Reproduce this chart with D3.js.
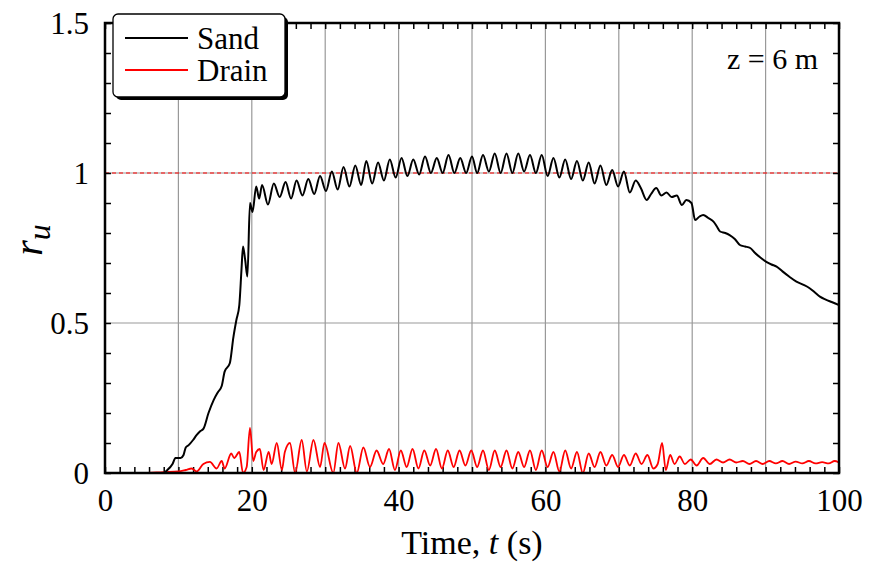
<!DOCTYPE html>
<html>
<head>
<meta charset="utf-8">
<script src="https://cdn.jsdelivr.net/npm/d3@7"></script>
<style>
  html, body { margin: 0; padding: 0; background: #fff; }
  svg { display: block; }
  svg text { font-family: "Liberation Serif", Tinos, "Times New Roman", Times, "DejaVu Serif", serif; fill: #000; }
</style>
</head>
<body>
<svg id="chart" width="870" height="564"></svg>
<script>
// ---------------- data ----------------
const sandT = [0, 4, 7.9, 8.5, 9.2, 9.6, 10.3, 10.7, 11.0, 11.4, 12.0, 12.5, 13.0, 13.4, 14.1, 14.8, 15.4, 15.9, 16.3, 17.0, 17.5, 17.9, 18.3, 18.6, 18.8, 19.1, 19.4, 19.75, 20.1, 20.6,
  21.0, 21.4, 22.2, 23.0, 23.8, 24.6, 25.35, 26.1, 26.9, 27.7, 28.5, 29.3, 30.1, 30.9, 31.7, 32.5, 33.3, 34.1, 34.9, 35.6, 36.4, 37.2, 38.0, 38.8, 39.6,
  40.4, 41.2, 42.0, 42.8, 43.6, 44.4, 45.2, 46.0, 46.8, 47.6, 48.4, 49.2, 50.0, 50.7, 51.5, 52.3, 53.1, 53.9, 54.7, 55.5, 56.3, 57.1, 57.9, 58.7, 59.5,
  60.3, 61.1, 61.9, 62.7, 63.5, 64.3, 65.1, 65.9, 66.7, 67.5, 68.3, 69.1, 69.9, 70.7, 71.5, 72.3, 73.0, 73.8, 74.4, 75.1, 75.8, 76.5, 77.2, 77.9, 78.6, 79.2,
  79.9, 80.4, 81.0, 81.5, 82.2, 82.9, 83.4, 83.8, 84.5, 85.1, 85.8, 86.5, 87.2, 87.9, 88.5, 89.2, 90.1, 90.8, 91.5, 92.3, 93.2, 94.2, 95.1, 96.0, 96.8, 97.4, 98.2, 99.0, 100];
const sandR = [0, 0, 0.0, 0.01, 0.03, 0.05, 0.05, 0.06, 0.085, 0.093, 0.11, 0.127, 0.14, 0.147, 0.2, 0.243, 0.27, 0.29, 0.338, 0.366, 0.454, 0.51, 0.56, 0.68, 0.755, 0.71, 0.655, 0.9, 0.87, 0.955,
  0.915, 0.96, 0.895, 0.965, 0.92, 0.97, 0.915, 0.975, 0.925, 0.98, 0.93, 0.99, 0.94, 1.005, 0.945, 1.02, 0.955, 1.025, 0.96, 1.04, 0.965, 1.035, 0.975, 1.045, 0.985,
  1.05, 0.99, 1.045, 0.995, 1.055, 1.0, 1.05, 1.0, 1.06, 1.0, 1.05, 1.0, 1.055, 1.0, 1.06, 1.005, 1.065, 1.0, 1.065, 1.0, 1.065, 1.005, 1.06, 1.0, 1.06,
  0.99, 1.05, 0.985, 1.045, 0.98, 1.04, 0.975, 1.035, 0.965, 1.025, 0.96, 1.01, 0.955, 1.005, 0.935, 0.975, 0.95, 0.91, 0.93, 0.95, 0.925, 0.935, 0.92, 0.925, 0.893, 0.91,
  0.9, 0.843, 0.855, 0.86, 0.85, 0.838, 0.82, 0.805, 0.8, 0.793, 0.78, 0.76, 0.755, 0.75, 0.735, 0.72, 0.704, 0.695, 0.688, 0.672, 0.655, 0.638, 0.628, 0.616, 0.6, 0.588, 0.578, 0.57, 0.56];

const drainT = [0, 5, 8, 10, 11, 11.8, 12.5, 13.4, 14.3, 15.2, 15.9, 16.3, 17.2, 17.6, 18.3, 18.8, 19.3, 19.75, 20.2, 20.6, 21.1, 21.6, 22.3, 22.7, 23.4, 24.1, 24.5, 25.2, 25.9,
  26.8, 27.5, 28.4, 29.3, 29.9, 31.1, 31.8, 32.7, 33.4, 34.3, 35.2, 36.1, 37.0, 37.9, 38.7, 39.5, 40.3, 41.1, 41.9, 42.7, 43.5, 44.3, 45.1, 45.9, 46.7, 47.5,
  48.3, 49.1, 49.9, 50.7, 51.5, 52.3, 53.1, 53.9, 54.7, 55.5, 56.3, 57.1, 57.9, 58.7, 59.5, 60.3, 61.1, 61.9, 62.7, 63.5, 64.3, 65.1, 65.9, 66.7, 67.5, 68.3,
  69.1, 69.9, 70.7, 71.5, 72.3, 73.1, 73.9, 74.7, 75.3, 75.9, 76.4, 77.0, 77.6, 78.3, 79.0, 79.8, 80.6, 81.5, 82.4, 83.3, 84.2, 85.1, 86.0, 86.9, 87.8, 88.7,
  89.6, 90.5, 91.4, 92.3, 93.2, 94.1, 95.0, 95.9, 96.8, 97.7, 98.6, 99.4, 100];
const drainR = [0, 0, 0.003, 0.005, 0.01, 0.015, 0.005, 0.03, 0.037, 0.015, 0.04, 0.015, 0.065, 0.05, 0.07, 0.0, 0.02, 0.15, 0.04, 0.07, 0.08, 0.01, 0.07, 0.03, 0.1, 0.01, 0.07, 0.1, 0.0,
  0.11, 0.005, 0.11, 0.02, 0.1, 0.0, 0.1, 0.015, 0.09, 0.0, 0.085, 0.02, 0.075, 0.03, 0.08, 0.01, 0.075, 0.02, 0.08, 0.015, 0.075, 0.025, 0.08, 0.015, 0.075, 0.02,
  0.075, 0.025, 0.075, 0.02, 0.075, 0.01, 0.075, 0.02, 0.075, 0.015, 0.07, 0.02, 0.075, 0.01, 0.075, 0.02, 0.07, 0.005, 0.075, 0.015, 0.07, 0.0, 0.065, 0.02, 0.07, 0.025,
  0.06, 0.02, 0.06, 0.025, 0.065, 0.03, 0.06, 0.015, 0.03, 0.1, 0.01, 0.06, 0.03, 0.055, 0.03, 0.045, 0.025, 0.05, 0.03, 0.045, 0.035, 0.045, 0.035, 0.04, 0.03, 0.04,
  0.03, 0.04, 0.032, 0.04, 0.03, 0.038, 0.032, 0.04, 0.032, 0.036, 0.032, 0.04, 0.035];

const seriesNames = ["Sand", "Drain"];
const seriesColors = ["#000000", "#ff0000"];
const xTickValues = [0, 20, 40, 60, 80, 100];
const yTickValues = [0, 0.5, 1, 1.5];
const xGridValues = [10, 20, 30, 40, 50, 60, 70, 80, 90];
const yGridValues = [0.5, 1];
const refLine = 1;
const annotation = "z = 6 m";

// ---------------- layout ----------------
const FONT = '"Liberation Serif", Tinos, "Times New Roman", Times, "DejaVu Serif", serif';
const L = 105, R = 839, T = 23, B = 473;
const svg = d3.select("#chart");
const x = d3.scaleLinear().domain([0, 100]).range([L, R]);
const y = d3.scaleLinear().domain([0, 1.5]).range([B, T]);

// grid
svg.append("g").selectAll("line").data(xGridValues).join("line")
  .attr("x1", d => x(d)).attr("x2", d => x(d)).attr("y1", T).attr("y2", B)
  .attr("stroke", "#999").attr("stroke-width", 1.2);
svg.append("g").selectAll("line").data(yGridValues).join("line")
  .attr("x1", L).attr("x2", R).attr("y1", d => y(d)).attr("y2", d => y(d))
  .attr("stroke", "#999").attr("stroke-width", 1.2);

// reference dashed line
svg.append("line").attr("x1", L).attr("x2", R).attr("y1", y(refLine)).attr("y2", y(refLine))
  .attr("stroke", "#ff0000").attr("stroke-width", 1).attr("stroke-dasharray", "4,3");

// minor ticks (inward)
const xMinor = d3.range(0, 101, 2);
const yMinor = d3.range(0, 16).map(i => i / 10);
function tickStyle(g) { g.select(".domain").remove(); g.selectAll("text").remove(); g.selectAll("line").attr("stroke", "#000").attr("stroke-width", 1.5); }
svg.append("g").attr("transform", `translate(0,${B})`).call(d3.axisTop(x).tickValues(xMinor).tickSize(6)).call(tickStyle);
svg.append("g").attr("transform", `translate(0,${T})`).call(d3.axisBottom(x).tickValues(xMinor).tickSize(6)).call(tickStyle);
svg.append("g").attr("transform", `translate(${L},0)`).call(d3.axisRight(y).tickValues(yMinor).tickSize(6)).call(tickStyle);
svg.append("g").attr("transform", `translate(${R},0)`).call(d3.axisLeft(y).tickValues(yMinor).tickSize(6)).call(tickStyle);

// data lines
const sandData = sandT.map((t, i) => [t, sandR[i]]);
const drainData = drainT.map((t, i) => [t, drainR[i]]);
const line = d3.line().x(d => x(d[0])).y(d => y(d[1])).curve(d3.curveMonotoneX);
svg.append("clipPath").attr("id", "clip").append("rect").attr("x", L).attr("y", T).attr("width", R - L).attr("height", B - T);
svg.append("path").datum(drainData).attr("d", line).attr("fill", "none")
  .attr("stroke", seriesColors[1]).attr("stroke-width", 1.8).attr("stroke-linejoin", "round").attr("clip-path", "url(#clip)");
svg.append("path").datum(sandData).attr("d", line).attr("fill", "none")
  .attr("stroke", seriesColors[0]).attr("stroke-width", 2).attr("stroke-linejoin", "round").attr("clip-path", "url(#clip)");

// frame
svg.append("rect").attr("x", L).attr("y", T).attr("width", R - L).attr("height", B - T)
  .attr("fill", "none").attr("stroke", "#000").attr("stroke-width", 2.5);

// tick labels
const fs = 31;
const xAxis = svg.append("g").attr("transform", `translate(0,${B})`)
  .call(d3.axisBottom(x).tickValues(xTickValues).tickSize(0).tickPadding(0).tickFormat(d3.format("d")));
xAxis.attr("font-family", FONT);
xAxis.select(".domain").remove();
xAxis.selectAll("text").attr("font-size", fs).attr("dy", null).attr("y", 38).attr("fill", "#000");
const yAxis = svg.append("g").attr("transform", `translate(${L},0)`)
  .call(d3.axisLeft(y).tickValues(yTickValues).tickSize(0).tickPadding(0).tickFormat(d => d === 0 ? "0" : (d === 1 ? "1" : d3.format(".1f")(d))));
yAxis.attr("font-family", FONT);
yAxis.select(".domain").remove();
yAxis.selectAll("text").attr("font-size", fs).attr("x", -16).attr("dy", "0.34em").attr("fill", "#000");

// axis titles
const xt = svg.append("text").attr("x", (L + R) / 2).attr("y", 554).attr("text-anchor", "middle").attr("font-size", 34);
xt.append("tspan").text("Time, ");
xt.append("tspan").attr("font-style", "italic").text("t");
xt.append("tspan").text(" (s)");
const yt = svg.append("text").attr("transform", "translate(42,240) rotate(-90)").attr("text-anchor", "middle").attr("font-size", 40);
yt.append("tspan").attr("font-style", "italic").text("r");
yt.append("tspan").attr("font-style", "italic").attr("font-size", 32).attr("dy", 8).text("u");

// annotation
svg.append("text").attr("x", 818).attr("y", 69).attr("text-anchor", "end").attr("font-size", 30).text(annotation);

// legend
const lg = svg.append("g");
lg.append("rect").attr("x", 116).attr("y", 17).attr("width", 172).attr("height", 83).attr("rx", 5).attr("fill", "#000");
lg.append("rect").attr("x", 113).attr("y", 14).attr("width", 172).attr("height", 83).attr("rx", 5)
  .attr("fill", "#fff").attr("stroke", "#000").attr("stroke-width", 1.3);
seriesNames.forEach((n, i) => {
  const yy = 38 + i * 32;
  lg.append("line").attr("x1", 125).attr("x2", 188).attr("y1", yy).attr("y2", yy)
    .attr("stroke", seriesColors[i]).attr("stroke-width", 1.8);
  lg.append("text").attr("x", 197).attr("y", yy + 11).attr("font-size", fs).text(n);
});
</script>
</body>
</html>
